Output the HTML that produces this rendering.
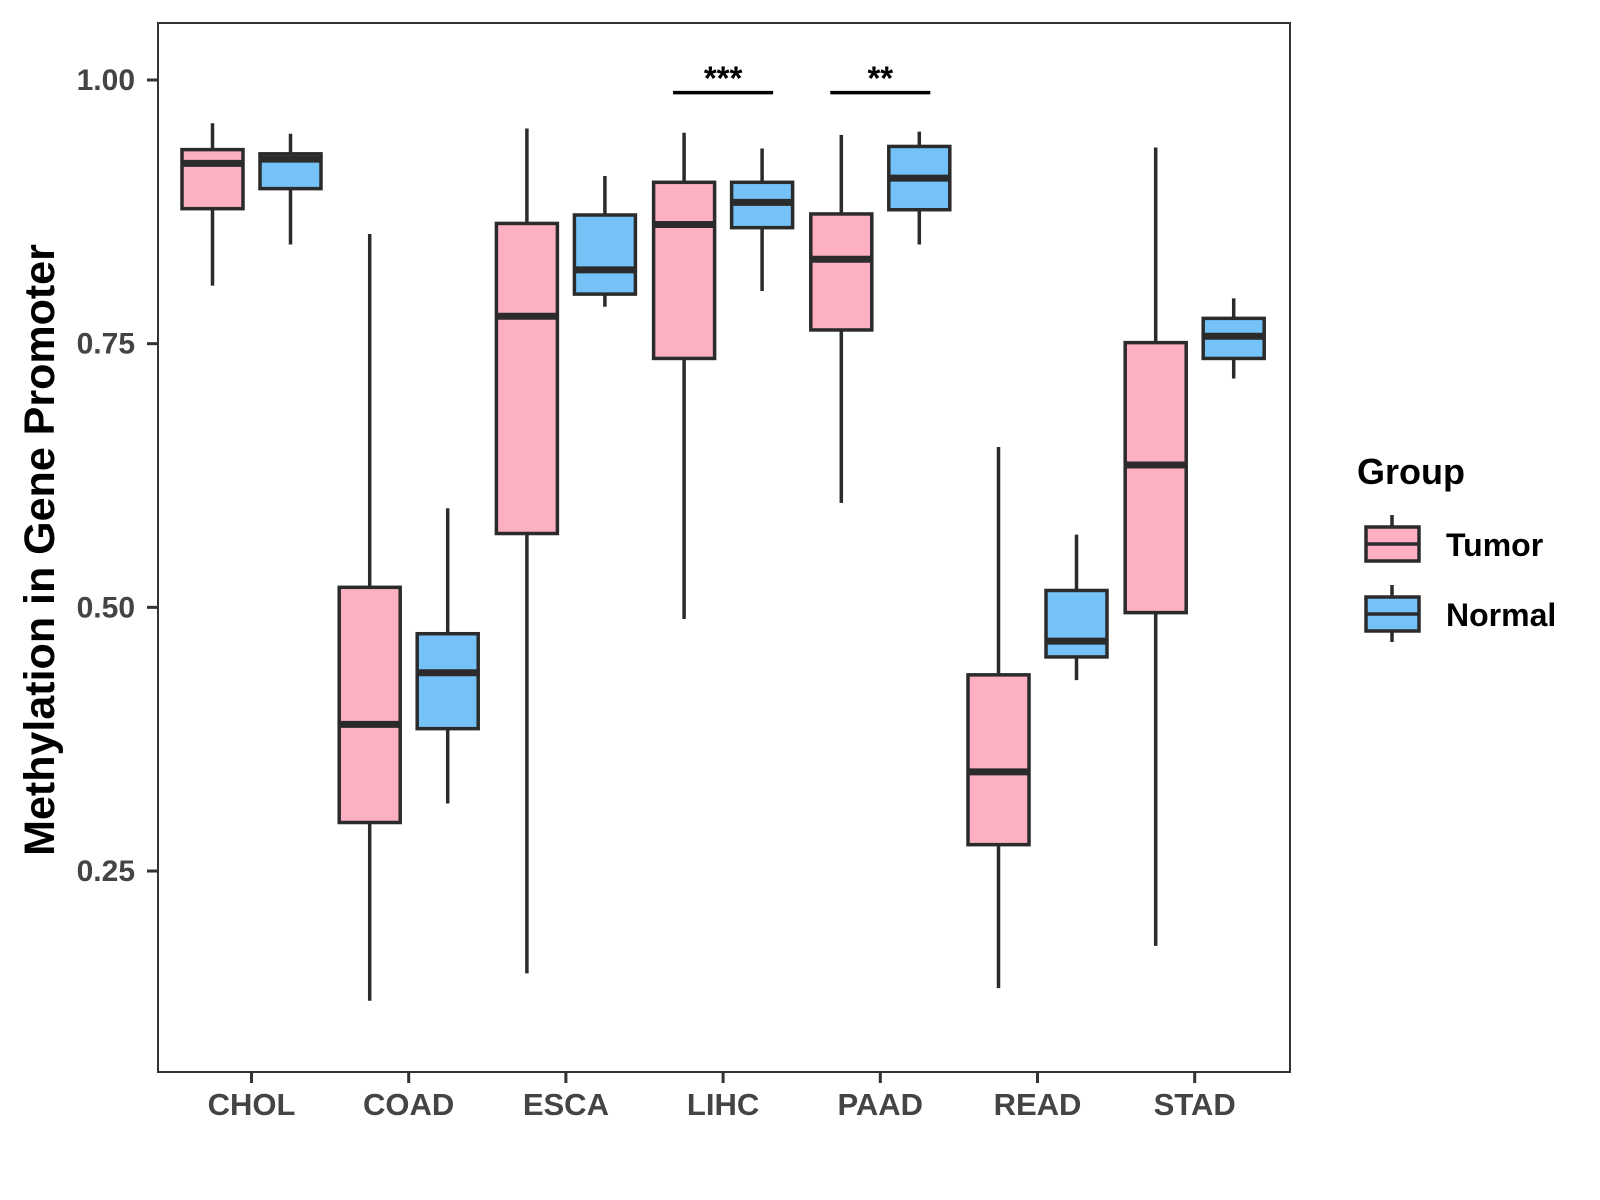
<!DOCTYPE html>
<html><head><meta charset="utf-8"><style>
html,body{margin:0;padding:0;background:#fff;}
svg{display:block;font-family:"Liberation Sans",Arial,sans-serif;}
</style></head><body>
<svg id="chart" width="1600" height="1200" viewBox="0 0 1600 1200" xmlns="http://www.w3.org/2000/svg">
<rect x="0" y="0" width="1600" height="1200" fill="#fff"/>
<g id="marks"></g>
<rect x="158" y="23" width="1132" height="1049" fill="none" stroke="#333" stroke-width="2"/>
<g id="axes"></g>
<text transform="translate(54,550) rotate(-90)" text-anchor="middle" font-size="43" font-weight="bold" fill="#000">Methylation in Gene Promoter</text>
<g transform="translate(-7,0)">
<text x="1364" y="484" font-size="36" font-weight="bold" fill="#000">Group</text>
<g>
<line x1="1399" y1="515" x2="1399" y2="561" stroke="#2b2b2b" stroke-width="3.5"/>
<rect x="1373" y="527" width="53" height="34" fill="#FCB0C1" stroke="#2b2b2b" stroke-width="3.5"/>
<line x1="1373" y1="544" x2="1426" y2="544" stroke="#2b2b2b" stroke-width="3.5"/>
<text x="1453" y="556" font-size="32" font-weight="bold" fill="#000">Tumor</text>
</g>
<g>
<line x1="1399" y1="585" x2="1399" y2="642" stroke="#2b2b2b" stroke-width="3.5"/>
<rect x="1373" y="597" width="53" height="34" fill="#74C2F8" stroke="#2b2b2b" stroke-width="3.5"/>
<line x1="1373" y1="614" x2="1426" y2="614" stroke="#2b2b2b" stroke-width="3.5"/>
<text x="1453" y="626" font-size="32" font-weight="bold" fill="#000">Normal</text>
</g>
</g>
</svg>
<script>
const categories = ["CHOL","COAD","ESCA","LIHC","PAAD","READ","STAD"];
const groups = ["Tumor","Normal"];
// [low, q1, median, q3, high]
const tumorStats = [
 [0.805,0.878,0.921,0.934,0.959],
 [0.127,0.296,0.389,0.519,0.854],
 [0.153,0.570,0.776,0.864,0.954],
 [0.489,0.736,0.863,0.903,0.950],
 [0.599,0.763,0.830,0.873,0.948],
 [0.139,0.275,0.344,0.436,0.652],
 [0.179,0.495,0.635,0.751,0.936]
];
const normalStats = [
 [0.844,0.897,0.925,0.930,0.949],
 [0.314,0.385,0.438,0.475,0.594],
 [0.785,0.797,0.820,0.872,0.909],
 [0.800,0.860,0.884,0.903,0.935],
 [0.844,0.877,0.907,0.937,0.951],
 [0.431,0.453,0.468,0.516,0.569],
 [0.717,0.736,0.757,0.774,0.793]
];
const yTicks = [0.25,0.50,0.75,1.00];
const yTickLabels = ["0.25","0.50","0.75","1.00"];
const sigCategories = ["LIHC","PAAD"];
const sigLabels = ["***","**"];
const sigLevel = 0.988;

const NS="http://www.w3.org/2000/svg";
const y = v => 80 + (1 - v) * 1054.7;
const x = i => 251.5 + i * 157.2;
const off = 39, bw = 61;
const marks = document.getElementById('marks');
const axes = document.getElementById('axes');
function mk(tag, attrs, parent){const e=document.createElementNS(NS,tag);for(const k in attrs)e.setAttribute(k,attrs[k]);parent.appendChild(e);return e;}
const fills=["#FCB0C1","#74C2F8"];
categories.forEach((c,i)=>{
  [tumorStats[i],normalStats[i]].forEach((s,g)=>{
    const cx = x(i) + (g===0?-off:off);
    const grp = mk('g',{},marks);
    
    
    mk('line',{x1:cx,x2:cx,y1:y(s[4]),y2:y(s[0]),stroke:"#2b2b2b","stroke-width":3.5},grp);
    mk('rect',{x:cx-bw/2,y:y(s[3]),width:bw,height:y(s[1])-y(s[3]),fill:fills[g],stroke:"#2b2b2b","stroke-width":3.5},grp);
    mk('line',{x1:cx-bw/2,x2:cx+bw/2,y1:y(s[2]),y2:y(s[2]),stroke:"#2b2b2b","stroke-width":7},grp);
  });
  const t = mk('line',{x1:x(i),x2:x(i),y1:1072,y2:1083,stroke:"#333","stroke-width":3},axes);
  
  
  const l = mk('text',{x:x(i),y:1115,"text-anchor":"middle","font-size":31,"font-weight":"bold",fill:"#444"},axes);
  l.textContent=c;
  
  
});
yTicks.forEach((v,k)=>{
  const t = mk('line',{x1:147,x2:158,y1:y(v),y2:y(v),stroke:"#333","stroke-width":3},axes);
  
  
  const l = mk('text',{x:135,y:y(v)+10,"text-anchor":"end","font-size":30,"font-weight":"bold",fill:"#444"},axes);
  l.textContent=yTickLabels[k];
  
  
});
sigCategories.forEach((c,k)=>{
  const i = categories.indexOf(c);
  const g = mk('g',{},marks);
  
  
  mk('line',{x1:x(i)-50,x2:x(i)+50,y1:y(sigLevel),y2:y(sigLevel),stroke:"#000","stroke-width":3.5},g);
  const t = mk('text',{x:x(i),y:y(sigLevel)-3,"text-anchor":"middle","font-size":33,"font-weight":"bold",fill:"#000"},g);
  t.textContent=sigLabels[k];
});
</script>
</body></html>
